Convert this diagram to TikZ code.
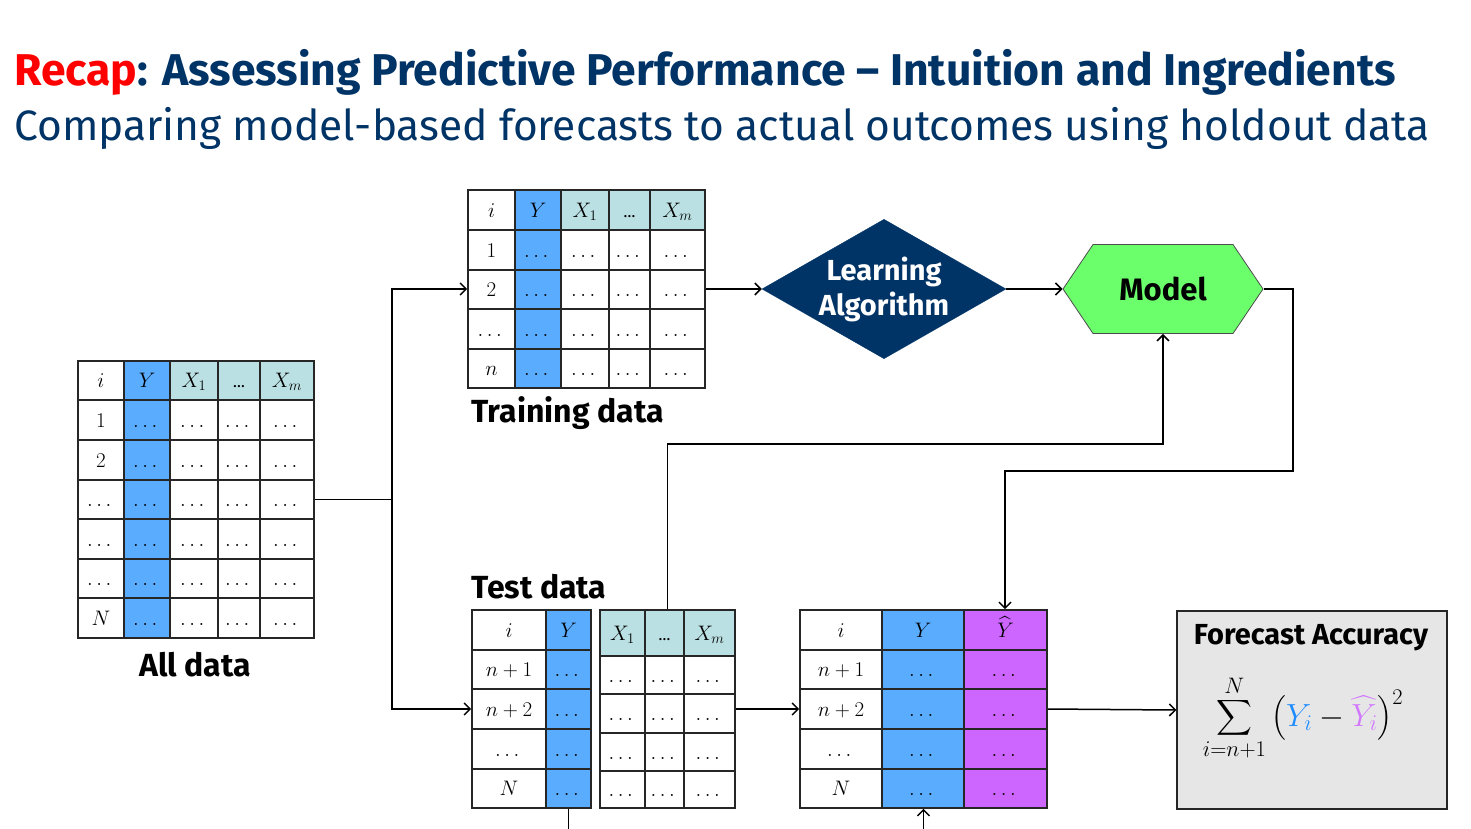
\RequirePackage{fix-cm}
\documentclass[tikz,border=0pt]{standalone}
\usepackage{amsmath}
\usepackage{fontspec}
\setmainfont{Fira Sans}
\usepackage{xcolor}
\usepackage{tikz}
\usetikzlibrary{shapes.geometric,shapes.symbols,arrows.meta}

\definecolor{navy}{RGB}{0,51,102}
\definecolor{recapred}{RGB}{255,0,0}
\definecolor{ycol}{RGB}{90,172,255}
\definecolor{xhead}{RGB}{187,224,227}
\definecolor{yhatcol}{RGB}{204,102,255}
\definecolor{modelgreen}{RGB}{108,255,108}
\definecolor{accgray}{RGB}{230,230,230}
\definecolor{yblue}{RGB}{30,140,255}
\definecolor{yhatpink}{RGB}{210,120,255}

\begin{document}
\begin{tikzpicture}[x=1pt,y=-1pt,
  grid/.style={line width=1.6pt,draw=black!85},
  frame/.style={draw=black!85,line width=1.6pt,inner sep=0},
  cell/.style={anchor=base,yshift=-7pt,inner sep=0,font=\fontsize{21}{25}\selectfont},
  hdots/.style={cell,font=\fontsize{16}{18}\selectfont},
  conn/.style={line width=1.5pt,->,>={Straight Barb[length=6pt,width=12pt]}},
  lbl/.style={anchor=base west,font=\fontsize{32}{36}\selectfont\bfseries}]
\useasboundingbox (0,0) rectangle (1471,828);
\clip (0,0) rectangle (1471,828);
\fill[white] (0,0) rectangle (1471,828);

% title
\node[anchor=base west,inner sep=0,text=navy,font=\fontsize{44.5}{50}\selectfont\bfseries] (title) at (14,85) {\textcolor{recapred}{Recap}: Assessing Predictive Performance – Intuition and Ingredients};
\node[anchor=base west,inner sep=0,text=navy,font=\fontsize{42.5}{48}\selectfont] (subtitle) at (14,140) {Comparing model-based forecasts to actual outcomes using holdout data};

% all data
\fill[ycol] (124,361) rectangle (170,638);
\fill[xhead] (170,361) rectangle (314,400);
\foreach \x in {124,170,218,260} \draw[grid] (\x,361) -- (\x,638);
\foreach \y in {400,440,480,519,559,598} \draw[grid] (78,\y) -- (314,\y);
\node[frame,minimum width=236,minimum height=277] (all) at (196,499.5) {};
\node[cell] (all-i) at (101,380.5) {$i$};
\node[cell] (all-y) at (147,380.5) {$Y$};
\node[cell] (all-x1) at (194,380.5) {$X_1$};
\node[hdots] (all-xd) at (239,380.5) {…};
\node[cell] (all-xm) at (287,380.5) {$X_m$};
\foreach \y/\t [count=\r] in {420/1,460/2,499.5/\dots,539/\dots,578.5/\dots,618/N} {
  \node[cell] (all-\r) at (101,\y) {$\t$};
  \foreach \x [count=\c] in {147,194,239,287} \node[cell] (all-\r-\c) at (\x,\y) {$\dots$};
}
\node[lbl,anchor=base] (alllbl) at (195,676) {All data};

% training data
\fill[ycol] (515,190) rectangle (561,388);
\fill[xhead] (561,190) rectangle (705,230);
\foreach \x in {515,561,609,650} \draw[grid] (\x,190) -- (\x,388);
\foreach \y in {230,270,309,349} \draw[grid] (468,\y) -- (705,\y);
\node[frame,minimum width=237,minimum height=198] (train) at (586.5,289) {};
\node[cell] (tr-i) at (491.5,210) {$i$};
\node[cell] (tr-y) at (538,210) {$Y$};
\node[cell] (tr-x1) at (585,210) {$X_1$};
\node[hdots] (tr-xd) at (629.5,210) {…};
\node[cell] (tr-xm) at (677.5,210) {$X_m$};
\foreach \y/\t [count=\r] in {250/1,289.5/2,329/\dots,368.5/n} {
  \node[cell] (tr-\r) at (491.5,\y) {$\t$};
  \foreach \x [count=\c] in {538,585,629.5,677.5} \node[cell] (tr-\r-\c) at (\x,\y) {$\dots$};
}
\node[lbl] (trainlbl) at (468,422) {Training data};

% test data
\fill[ycol] (546,610) rectangle (591,808);
\draw[grid] (546,610) -- (546,808);
\foreach \y in {650,689,729,769} \draw[grid] (472,\y) -- (591,\y);
\node[frame,minimum width=119,minimum height=198] (testy) at (531.5,709) {};
\node[cell] (te-i) at (509,630) {$i$};
\node[cell] (te-y) at (568.5,630) {$Y$};
\foreach \y/\t [count=\r] in {669.5/n+1,709/n+2,749/\dots,788.5/N} {
  \node[cell] (te-\r) at (509,\y) {$\t$};
  \node[cell] (te-\r-y) at (568.5,\y) {$\dots$};
}
\fill[xhead] (600,610) rectangle (735,656);
\foreach \x in {645,684} \draw[grid] (\x,610) -- (\x,808);
\foreach \y in {656,694,733,771} \draw[grid] (600,\y) -- (735,\y);
\node[frame,minimum width=135,minimum height=198] (testx) at (667.5,709) {};
\node[cell] (te-x1) at (622.5,633) {$X_1$};
\node[hdots] (te-xd) at (664.5,633) {…};
\node[cell] (te-xm) at (709.5,633) {$X_m$};
\foreach \y [count=\r] in {675,713.5,752,789.5}
  \foreach \x [count=\c] in {622.5,664.5,709.5} \node[cell] (tx-\r-\c) at (\x,\y) {$\dots$};
\node[lbl] (testlbl) at (468,598) {Test data};

% predictions
\fill[ycol] (882,610) rectangle (964,808);
\fill[yhatcol] (964,610) rectangle (1047,808);
\foreach \x in {882,964} \draw[grid] (\x,610) -- (\x,808);
\foreach \y in {650,689,729,769} \draw[grid] (800,\y) -- (1047,\y);
\node[frame,minimum width=247,minimum height=198] (pred) at (923.5,709) {};
\node[cell] (pr-i) at (841,630) {$i$};
\node[cell] (pr-y) at (923,630) {$Y$};
\node[cell] (pr-yh) at (1005.5,630) {$\widehat{Y}$};
\foreach \y/\t [count=\r] in {669.5/n+1,709/n+2,749/\dots,788.5/N} {
  \node[cell] (pr-\r) at (841,\y) {$\t$};
  \node[cell] (pr-\r-y) at (923,\y) {$\dots$};
  \node[cell] (pr-\r-yh) at (1005.5,\y) {$\dots$};
}

% learning algorithm and model
\node[diamond,fill=navy,draw=navy,minimum width=242,minimum height=138,aspect=1.75,inner sep=0,align=center,text=white,font=\fontsize{29}{35}\selectfont\bfseries] (algo) at (884,289) {Learning\\Algorithm};
\node[signal,signal to=east and west,signal pointer angle=112,fill=modelgreen,draw=black!70,line width=0.8pt,minimum width=200,minimum height=89,inner sep=0,font=\fontsize{31}{36}\selectfont\bfseries] (model) at (1163,289) {Model};

% forecast accuracy
\node[draw=black!85,line width=1.2pt,fill=accgray,minimum width=270,minimum height=198,inner sep=0] (acc) at (1312,710) {};
\node[anchor=base,inner sep=0,font=\fontsize{29}{34}\selectfont\bfseries] (acctitle) at (1311,644) {Forecast Accuracy};
\node[inner sep=0,font=\fontsize{32}{38}\selectfont] (accform) at (1303,718) {$\displaystyle\sum_{i=n+1}^{N}\left(\textcolor{yblue}{Y_i}-\textcolor{yhatpink}{\widehat{Y}_i}\right)^2$};

% connectors
\draw[conn] (all.east) -- ++(77,0) |- (train.west);
\draw[conn] (all.east) -- ++(77,0) |- (testy.west);
\draw[conn] (train.east) -- (algo.west);
\draw[conn] (algo.east) -- (model.west);
\draw[conn] (testx.north) -- ++(0,-165) -| (model.south);
\draw[conn] (model.east) -| (1293,471) -| ([xshift=81.5pt]pred.north);
\draw[conn] (testx.east) -- (pred.west);
\draw[conn] (pred.east) -- (acc.west);
\draw[conn] ([xshift=37pt]testy.south) -- ++(0,40) -| (pred.south);
\end{tikzpicture}
\end{document}
